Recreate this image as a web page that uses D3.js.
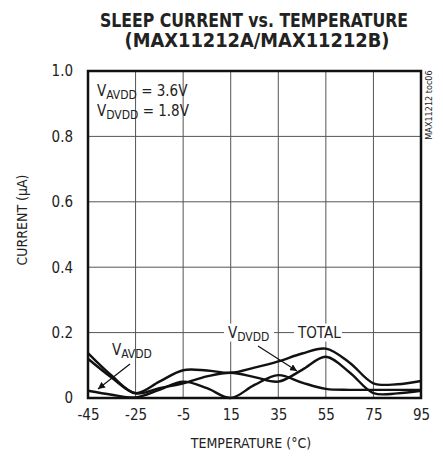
<!DOCTYPE html>
<html>
<head>
<meta charset="utf-8">
<script src="https://cdn.jsdelivr.net/npm/d3@7"></script>
<style>
  body { margin: 0; background: #fff; }
  svg { display: block; }
  text { font-family: "Liberation Sans Narrow", "DejaVu Sans Condensed", sans-serif; fill: #222; }
</style>
</head>
<body>
<svg id="chart" width="443" height="464"></svg>
<script>
// temperature steps (°C)
const temps = [-45, -35, -25, -15, -5, 5, 15, 25, 35, 45, 55, 65, 75, 85, 95];
// sleep current (µA)
const totalCurrent = [0.137, 0.068, 0.015, 0.05, 0.085, 0.084, 0.077, 0.093, 0.112, 0.136, 0.151, 0.108, 0.045, 0.042, 0.052];
const dvddCurrent  = [0.12, 0.062, 0.014, 0.03, 0.045, 0.066, 0.077, 0.064, 0.05, 0.086, 0.126, 0.078, 0.015, 0.014, 0.022];
const avddCurrent  = [0.022, 0.01, 0.002, 0.025, 0.05, 0.03, 0.0, 0.04, 0.07, 0.047, 0.028, 0.025, 0.025, 0.025, 0.025];

const xTicks = [-45, -25, -5, 15, 35, 55, 75, 95];
const yTicks = [0, 0.2, 0.4, 0.6, 0.8, 1.0];

const svg = d3.select("#chart");
const margin = { left: 88, right: 22, top: 71, bottom: 66 };
const W = 443, H = 464;

const x = d3.scaleLinear().domain([-45, 95]).range([margin.left, W - margin.right]);
const y = d3.scaleLinear().domain([0, 1]).range([H - margin.bottom, margin.top]);

// Title
svg.append("text")
  .attr("x", 254).attr("y", 27)
  .attr("text-anchor", "middle")
  .attr("font-size", "19px").attr("font-weight", "bold")
  .attr("textLength", 308).attr("lengthAdjust", "spacingAndGlyphs")
  .text("SLEEP CURRENT vs. TEMPERATURE");
svg.append("text")
  .attr("x", 257).attr("y", 47)
  .attr("text-anchor", "middle")
  .attr("font-size", "19px").attr("font-weight", "bold")
  .attr("textLength", 265).attr("lengthAdjust", "spacingAndGlyphs")
  .text("(MAX11212A/MAX11212B)");

// Grid
const grid = svg.append("g");
xTicks.forEach(t => {
  grid.append("line")
    .attr("x1", x(t)).attr("x2", x(t))
    .attr("y1", y(0)).attr("y2", y(1))
    .attr("stroke", "#555").attr("stroke-width", 1);
});
yTicks.forEach(t => {
  grid.append("line")
    .attr("x1", x(-45)).attr("x2", x(95))
    .attr("y1", y(t)).attr("y2", y(t))
    .attr("stroke", "#555").attr("stroke-width", 1);
});

// Axes labels (ticks)
const xAxis = d3.axisBottom(x).tickValues(xTicks).tickSize(0).tickPadding(11).tickFormat(d => String(d));
svg.append("g")
  .attr("transform", `translate(0,${y(0)})`)
  .call(xAxis)
  .call(g => g.select(".domain").remove())
  .selectAll("text")
  .attr("font-size", "15px").attr("fill", "#222")
  .attr("font-family", "Liberation Sans Narrow, DejaVu Sans Condensed, sans-serif");

const yAxis = d3.axisLeft(y).tickValues(yTicks).tickSize(0).tickPadding(15)
  .tickFormat(d => d === 0 ? "0" : d3.format(".1f")(d));
svg.append("g")
  .attr("transform", `translate(${x(-45)},0)`)
  .call(yAxis)
  .call(g => g.select(".domain").remove())
  .selectAll("text")
  .attr("font-size", "15px").attr("fill", "#222")
  .attr("font-family", "Liberation Sans Narrow, DejaVu Sans Condensed, sans-serif");

// Axis titles
svg.append("text")
  .attr("x", 251).attr("y", 448)
  .attr("text-anchor", "middle")
  .attr("font-size", "14px")
  .text("TEMPERATURE (°C)");
svg.append("text")
  .attr("transform", "translate(27,220) rotate(-90)")
  .attr("text-anchor", "middle")
  .attr("font-size", "14px")
  .text("CURRENT (µA)");

svg.append("text")
  .attr("transform", "translate(432,105) rotate(-90)")
  .attr("text-anchor", "middle")
  .attr("font-size", "9px")
  .text("MAX11212 toc06");

// Curves
const line = d3.line()
  .x((d, i) => x(temps[i]))
  .y(d => y(d))
  .curve(d3.curveCatmullRom.alpha(0.5));

[totalCurrent, dvddCurrent, avddCurrent].forEach(series => {
  svg.append("path")
    .attr("d", line(series))
    .attr("fill", "none")
    .attr("stroke", "#111")
    .attr("stroke-width", 2.4);
});

// Plot border
svg.append("rect")
  .attr("x", x(-45)).attr("y", y(1))
  .attr("width", x(95) - x(-45)).attr("height", y(0) - y(1))
  .attr("fill", "none").attr("stroke", "#111").attr("stroke-width", 2.5);

// Subscripted label helper
function subLabel(g, px, py, main, sub, rest, size) {
  const t = g.append("text")
    .attr("x", px).attr("y", py)
    .attr("font-size", size + "px");
  t.append("tspan").text(main);
  t.append("tspan").attr("font-size", (size * 0.8) + "px").attr("dy", 3).text(sub);
  if (rest) t.append("tspan").attr("dy", -3).text(rest);
  return t;
}

// Conditions
subLabel(svg, 97, 96, "V", "AVDD", " = 3.6V", 15);
subLabel(svg, 97, 116, "V", "DVDD", " = 1.8V", 15);

// Curve labels on the 0.2 gridline
const ann = svg.append("g");
ann.append("rect").attr("x", 224).attr("y", y(0.2) - 9).attr("width", 50).attr("height", 18).attr("fill", "#fff");
ann.append("rect").attr("x", 294).attr("y", y(0.2) - 9).attr("width", 48).attr("height", 18).attr("fill", "#fff");
subLabel(ann, 228, y(0.2) + 5, "V", "DVDD", null, 15);
ann.append("text")
  .attr("x", 298).attr("y", y(0.2) + 5)
  .attr("font-size", "15px")
  .text("TOTAL");
subLabel(ann, 112, 355, "V", "AVDD", null, 15);

// Arrows
svg.append("defs").append("marker")
  .attr("id", "arr")
  .attr("viewBox", "0 0 10 10")
  .attr("refX", 10).attr("refY", 5)
  .attr("markerWidth", 7).attr("markerHeight", 7)
  .attr("markerUnits", "userSpaceOnUse")
  .attr("orient", "auto")
  .append("path").attr("d", "M0,0 L10,5 L0,10 z").attr("fill", "#111");

svg.append("line")
  .attr("x1", 130).attr("y1", 364).attr("x2", 98).attr("y2", 389)
  .attr("stroke", "#111").attr("stroke-width", 1.2)
  .attr("marker-end", "url(#arr)");
svg.append("line")
  .attr("x1", 258).attr("y1", 346).attr("x2", 297).attr("y2", 371)
  .attr("stroke", "#111").attr("stroke-width", 1.2)
  .attr("marker-end", "url(#arr)");
</script>
</body>
</html>
